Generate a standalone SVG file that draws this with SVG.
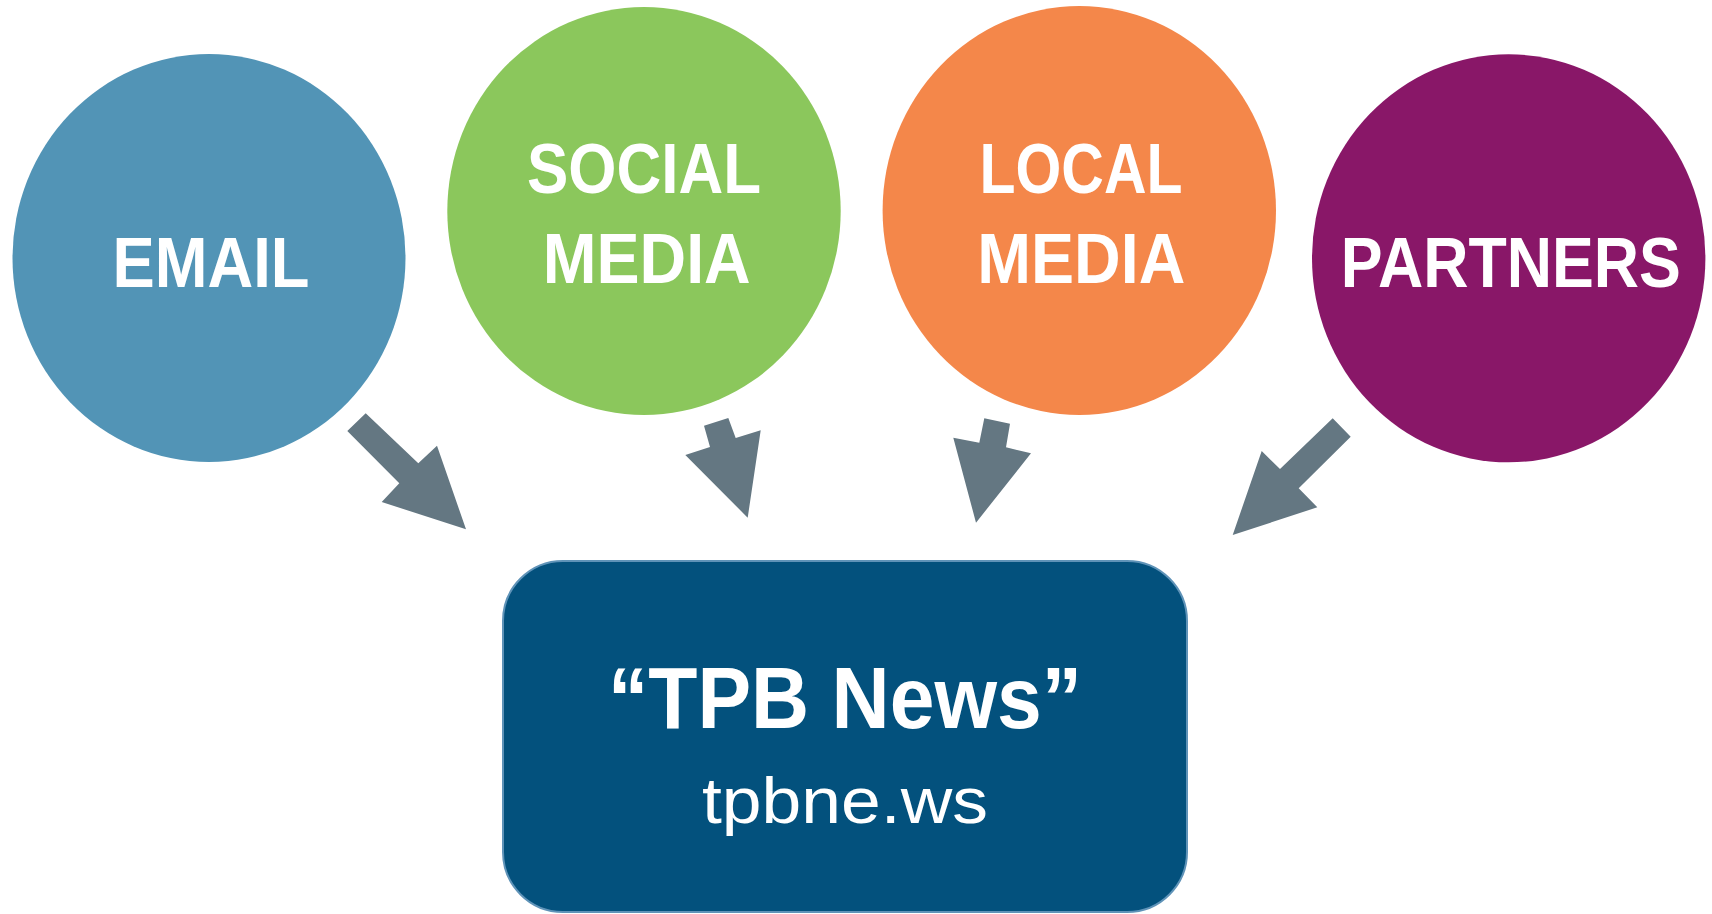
<svg xmlns="http://www.w3.org/2000/svg" width="1712" height="914" viewBox="0 0 1712 914">
  <style>
    .lbl { font-family: "Liberation Sans", Arial, sans-serif; font-weight: bold; font-size: 70px; fill: #ffffff; text-anchor: middle; }
    .title { font-family: "Liberation Sans", Arial, sans-serif; font-weight: bold; font-size: 88px; fill: #ffffff; text-anchor: middle; }
    .sub { font-family: "Liberation Sans", Arial, sans-serif; font-size: 64px; fill: #ffffff; text-anchor: middle; }
    .arrow { fill: #647782; }
  </style>
  <rect width="1712" height="914" fill="#ffffff"/>

  <g id="email">
    <ellipse cx="209" cy="258" rx="196.5" ry="204" fill="#5294b6"/>
    <text class="lbl" x="211" y="286.7" textLength="197" lengthAdjust="spacingAndGlyphs">EMAIL</text>
  </g>

  <g id="social-media">
    <ellipse cx="644" cy="211" rx="196.7" ry="204" fill="#8bc75c"/>
    <text class="lbl" x="644" y="193.3" textLength="234" lengthAdjust="spacingAndGlyphs">SOCIAL</text>
    <text class="lbl" x="646.7" y="283.3" textLength="208" lengthAdjust="spacingAndGlyphs">MEDIA</text>
  </g>

  <g id="local-media">
    <ellipse cx="1079.3" cy="210.5" rx="196.7" ry="204.5" fill="#f4874a"/>
    <text class="lbl" x="1081" y="193.3" textLength="203" lengthAdjust="spacingAndGlyphs">LOCAL</text>
    <text class="lbl" x="1081.3" y="283.3" textLength="208" lengthAdjust="spacingAndGlyphs">MEDIA</text>
  </g>

  <g id="partners">
    <ellipse cx="1508.7" cy="258.3" rx="196.7" ry="204" fill="#891768"/>
    <text class="lbl" x="1510.8" y="286.7" textLength="340" lengthAdjust="spacingAndGlyphs">PARTNERS</text>
  </g>

  <g id="tpb-news">
    <rect x="503" y="561" width="684" height="351" rx="60" ry="60" fill="#03517d" stroke="#5f93b8" stroke-width="2"/>
    <text class="title" x="845" y="728.3" textLength="474" lengthAdjust="spacingAndGlyphs">“TPB News”</text>
    <text class="sub" x="845" y="822.7" textLength="286" lengthAdjust="spacingAndGlyphs">tpbne.ws</text>
  </g>

  <g id="connectors">
    <polygon class="arrow" points="365.7,413.3 418.3,463.3 437,445.7 466,529.3 381.7,502 399.3,483.3 347.3,431"/>
    <polygon class="arrow" points="704,425.7 728.3,418 735.7,438 760.7,430.3 747.7,517.7 685.3,455 710,447"/>
    <polygon class="arrow" points="984.3,418.3 1010,423.7 1006,447.3 1031,453.3 976,522.7 953.3,437.7 979.3,442.7"/>
    <polygon class="arrow" points="1332.7,418.3 1350.7,436.7 1298.7,488.3 1317.3,507.3 1232.7,535 1261.7,451 1280,469"/>
  </g>
</svg>
